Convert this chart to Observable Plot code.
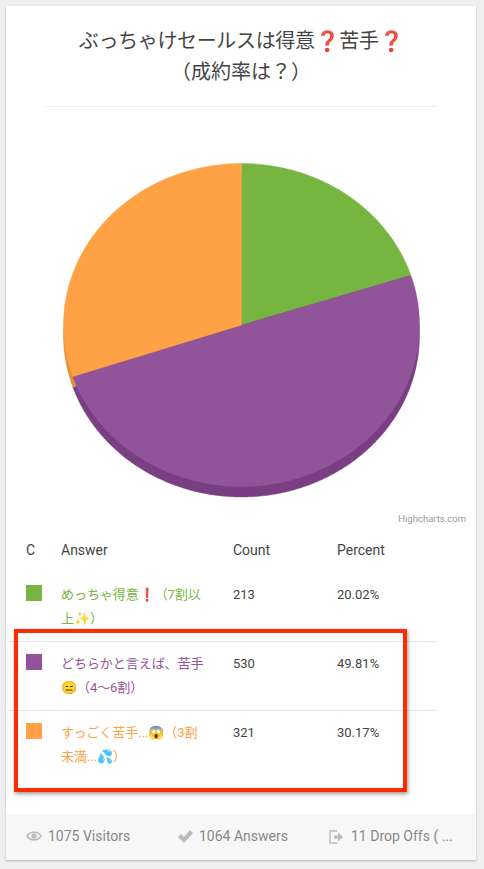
<!DOCTYPE html>
<html><head><meta charset="utf-8">
<script src="https://cdn.jsdelivr.net/npm/d3@7"></script>
<script src="https://cdn.jsdelivr.net/npm/@observablehq/plot@0.6"></script>
<style>
html,body{margin:0;padding:0;background:#efefef;width:484px;height:869px;overflow:hidden}
body{font-family:Roboto,"Noto Sans CJK JP",sans-serif;color:#444;position:relative}
.a{position:absolute;white-space:nowrap}
#card{left:6px;top:6px;width:470px;height:854px;background:#fff;box-shadow:0 1px 2px rgba(0,0,0,.25)}
#foot{left:6px;top:814px;width:470px;height:46px;background:#f7f7f7}
#title{left:6px;width:470px;top:26px;text-align:center;font-size:20px;line-height:31px;color:#444}
#title .l1{letter-spacing:-.35px}
.q{color:#c8102e;font-family:"DejaVu Sans";font-weight:bold}
.rule{height:1px;background:#e4e4e4}
#chart{left:0;top:120px}
.th{font-size:14px;line-height:24px;color:#444}
.td{font-size:13px;line-height:24px;color:#444}
.ans{font-size:13px;line-height:24px;white-space:normal;width:148px;left:61px;letter-spacing:-.05px}
.sw{width:16px;height:16px;left:26px}
.ft{font-size:14px;color:#888;line-height:20px}
#frame{left:14px;top:629px;width:385px;height:155px;border:4px solid #ff2a00;box-shadow:1px 2px 4px rgba(0,0,0,.4)}
</style></head><body>
<div class="a" id="card"></div>
<div class="a" id="foot"></div>
<div class="a" id="title"></div>
<div class="a rule" style="left:46px;top:106px;width:390px;background:#eee"></div>
<div class="a" id="chart"></div>
<div class="a" id="credit" style="right:18px;top:513px;font-size:9.5px;color:#999;line-height:12px">Highcharts.com</div>
<div class="a" id="table"></div>
<div class="a" id="frame"></div>
<div class="a" id="footer"></div>
<script>
const titleLines = ['<span class="l1">ぶっちゃけセールスは得意<span class="q">❓</span>苦手<span class="q">❓</span></span>', '（成約率は？）'];
const headers = ["C","Answer","Count","Percent"];
const answers = ["めっちゃ得意❗️（7割以上✨）","どちらかと言えば、苦手😑（4〜6割）","すっごく苦手...😱（3割未満...💦）"];
const counts = [213,530,321];
const percents = ["20.02%","49.81%","30.17%"];
const shares = [20.02,49.81,30.17];
const colors = ["#76b540","#925498","#ffa245"];
const sideColors = ["#5f9a30","#7a3e82","#e08f35"];
const footerItems = ["1075 Visitors","1064 Answers","11 Drop Offs ( ..."];

document.getElementById("title").innerHTML = titleLines.join("<br>");

// slice outlines from the shares
const arcs = d3.pie().sort(null)(shares);
const outline = [];
arcs.forEach((a,i)=>{
  const n = Math.ceil((a.endAngle-a.startAngle)*90);
  outline.push({i,x:0,y:0,seq:-1});
  d3.range(n+1).forEach(k=>{
    const t=a.startAngle+(a.endAngle-a.startAngle)*k/n;
    outline.push({i,x:Math.sin(t),y:-Math.cos(t),seq:k});
  });
});
const chart = Plot.plot({
  width:484,height:390,margin:0,
  x:{domain:[-1,1],range:[63,419],axis:null},
  y:{domain:[-1,1],range:[43,366],axis:null},
  color:{type:"identity"},
  marks:[
    Plot.line(outline,{x:"x",y:"y",z:"i",fill:d=>sideColors[d.i],stroke:d=>sideColors[d.i],strokeWidth:.4,dy:10.5,curve:"linear"}),
    Plot.line(outline,{x:"x",y:"y",z:"i",fill:d=>colors[d.i],stroke:d=>colors[d.i],strokeWidth:.4,curve:"linear"})
  ]
});
document.getElementById("chart").append(chart);

// table
const out=[];
const xs=[26,61,233,337];
headers.forEach((h,i)=>out.push(`<div class="a th" style="left:${xs[i]}px;top:538px">${h}</div>`));
const tops=[583,652,721];
answers.forEach((t,i)=>{
  out.push(`<div class="a sw" style="top:${tops[i]+2}px;background:${colors[i]}"></div>`);
  out.push(`<div class="a ans" style="top:${tops[i]}px;color:${colors[i]}">${t}</div>`);
  out.push(`<div class="a td" style="left:233px;top:${tops[i]}px">${counts[i]}</div>`);
  out.push(`<div class="a td" style="left:337px;top:${tops[i]}px">${percents[i]}</div>`);
});
[641,710].forEach(y=>out.push(`<div class="a rule" style="left:6px;top:${y}px;width:430px"></div>`));
document.getElementById("table").innerHTML=out.join("");

// footer
const icons=[
 '<path d="M1 7C4 2 12 2 15 7C12 12 4 12 1 7Z" fill="none" stroke="#bbb" stroke-width="1.6"/><circle cx="8" cy="7" r="2.6" fill="#bbb"/>',
 '<path d="M1 8L4 5L7 8L13 1L16 4L7 14Z" fill="#bbb"/>',
 '<path d="M8 2H1V14H8" fill="none" stroke="#bbb" stroke-width="1.4"/><path d="M5 6.5H9V3.5L14 8L9 12.5V9.5H5Z" fill="#bbb"/>'
];
const ix=[26,177,329], tx=[48,199,351];
document.getElementById("footer").innerHTML=footerItems.map((t,i)=>
 `<svg class="a" style="left:${ix[i]}px;top:${i==0?829:829}px" width="16" height="15" viewBox="0 0 16 15">${icons[i]}</svg>`+
 `<div class="a ft" style="left:${tx[i]}px;top:826px">${t}</div>`).join("");
</script>
</body></html>
